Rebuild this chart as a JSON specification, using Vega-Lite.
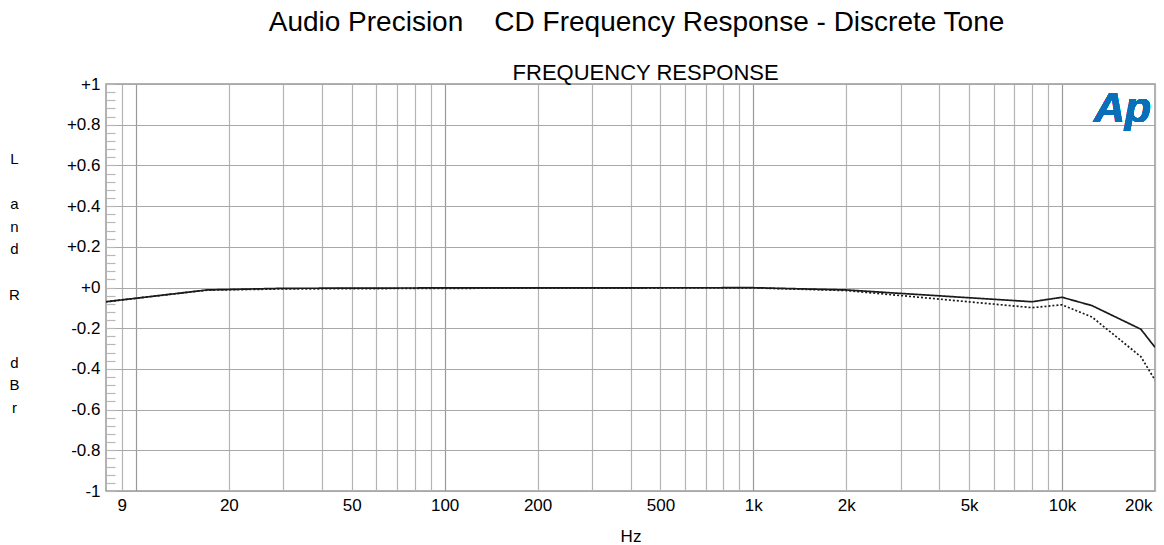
{
  "$schema": "https://vega.github.io/schema/vega-lite/v6.json",
  "autosize": "none",
  "padding": {"left": 106, "top": 84, "right": 9, "bottom": 54},
  "width": 1049,
  "height": 407,
  "background": "white",
  "title": {
    "text": "Audio Precision\u00a0\u00a0\u00a0\u00a0CD Frequency Response - Discrete Tone",
    "subtitle": "\u200b\u00a0\u00a0\u00a0FREQUENCY RESPONSE",
    "anchor": "middle",
    "dx": 6,
    "offset": -9,
    "fontSize": 28,
    "fontWeight": "normal",
    "font": "Liberation Sans",
    "color": "#000000",
    "subtitleFont": "Liberation Sans",
    "subtitleFontSize": 22,
    "subtitleColor": "#000000",
    "subtitlePadding": 26
  },
  "config": {
    "view": {"stroke": "#999999", "strokeWidth": 1.5},
    "axis": {"labelFont": "Liberation Sans", "titleFont": "Liberation Sans", "labelColor": "#000000", "titleColor": "#000000", "titleFontWeight": "normal"}
  },
  "data": {
    "values": [
      {"freq": 8, "level": -0.070, "channel": "Left"},
      {"freq": 17, "level": -0.012, "channel": "Left"},
      {"freq": 30, "level": -0.004, "channel": "Left"},
      {"freq": 100, "level": -0.002, "channel": "Left"},
      {"freq": 1000, "level": -0.001, "channel": "Left"},
      {"freq": 2000, "level": -0.012, "channel": "Left"},
      {"freq": 8000, "level": -0.070, "channel": "Left"},
      {"freq": 10000, "level": -0.048, "channel": "Left"},
      {"freq": 12500, "level": -0.089, "channel": "Left"},
      {"freq": 18000, "level": -0.205, "channel": "Left"},
      {"freq": 20000, "level": -0.294, "channel": "Left"},
      {"freq": 8, "level": -0.070, "channel": "Right"},
      {"freq": 17, "level": -0.013, "channel": "Right"},
      {"freq": 30, "level": -0.007, "channel": "Right"},
      {"freq": 100, "level": -0.004, "channel": "Right"},
      {"freq": 1000, "level": -0.002, "channel": "Right"},
      {"freq": 2000, "level": -0.015, "channel": "Right"},
      {"freq": 8000, "level": -0.099, "channel": "Right"},
      {"freq": 10000, "level": -0.085, "channel": "Right"},
      {"freq": 12500, "level": -0.145, "channel": "Right"},
      {"freq": 18000, "level": -0.340, "channel": "Right"},
      {"freq": 20000, "level": -0.455, "channel": "Right"}
    ]
  },
  "layer": [
    {
      "mark": {"type": "line", "color": "#1a1a1a", "strokeWidth": 1.7, "clip": true},
      "encoding": {
        "x": {
          "field": "freq", "type": "quantitative",
          "scale": {"type": "log", "domain": [8, 20000], "nice": false},
          "axis": {
            "title": "Hz",
            "titleFontSize": 17,
            "titlePadding": 15,
            "tickCount": 200,
            "values": [9, 10, 20, 30, 40, 50, 60, 70, 80, 90, 100, 200, 300, 400, 500, 600, 700, 800, 900, 1000, 2000, 3000, 4000, 5000, 6000, 7000, 8000, 9000, 10000, 20000],
            "labelExpr": "indexof([9, 20, 50, 100, 200, 500, 1000, 2000, 5000, 10000, 20000], datum.value) < 0 ? '' : (datum.value >= 1000 ? (datum.value / 1000) + 'k' : '' + datum.value)",
            "labelFontSize": 17,
            "labelPadding": 6,
            "labelOverlap": false,
            "labelFlush": true,
            "labelFlushOffset": -3,
            "ticks": false,
            "domain": false,
            "grid": true,
            "gridColor": {"condition": {"test": "indexof([10, 100, 1000, 10000], datum.value) >= 0", "value": "#999999"}, "value": "#b4b4b4"},
            "gridWidth": 1.2
          }
        },
        "y": {
          "field": "level", "type": "quantitative",
          "scale": {"domain": [-1, 1], "nice": false, "zero": false},
          "axis": {
            "title": ["L", "\u200b", "a", "n", "d", "\u200b", "R", "\u200b", "\u200b", "d", "B", "r"],
            "titleAngle": 0,
            "titleFontSize": 15,
            "titleLineHeight": 22.7,
            "titleAlign": "center",
            "titleBaseline": "middle",
            "titleX": -92,
            "titleY": 74,
            "tickCount": 200,
            "values": [-1, -0.96, -0.92, -0.88, -0.84, -0.8, -0.76, -0.72, -0.68, -0.64, -0.6, -0.56, -0.52, -0.48, -0.44, -0.4, -0.36, -0.32, -0.28, -0.24, -0.2, -0.16, -0.12, -0.08, -0.04, 0, 0.04, 0.08, 0.12, 0.16, 0.2, 0.24, 0.28, 0.32, 0.36, 0.4, 0.44, 0.48, 0.52, 0.56, 0.6, 0.64, 0.68, 0.72, 0.76, 0.8, 0.84, 0.88, 0.92, 0.96, 1],
            "labelExpr": "abs(datum.value * 5 - round(datum.value * 5)) > 0.01 ? '' : (datum.value > 0.001 ? '+' + datum.value : (datum.value < -0.001 ? '' + datum.value : '+0'))",
            "labelFontSize": 17,
            "labelPadding": 15,
            "labelOverlap": false,
            "labelFlush": false,
            "ticks": true,
            "tickSize": -9,
            "tickColor": "#b8b8b8",
            "tickWidth": 1.2,
            "domain": false,
            "grid": true,
            "gridColor": "#a8a8a8",
            "gridWidth": 1.2,
            "gridOpacity": {"condition": {"test": "abs(datum.value * 5 - round(datum.value * 5)) > 0.01", "value": 0}, "value": 1}
          }
        },
        "strokeDash": {
          "field": "channel", "type": "nominal",
          "scale": {"domain": ["Left", "Right"], "range": [[1, 0], [2, 2]]},
          "legend": null
        }
      }
    },
    {
      "mark": {"type": "text", "text": "Ap", "font": "Liberation Sans", "fontSize": 43, "fontStyle": "italic", "fontWeight": "bold", "color": "#0a6fb8", "align": "right", "baseline": "alphabetic", "dx": -4},
      "encoding": {
        "x": {"datum": 20000},
        "y": {"datum": 0.813}
      }
    }
  ]
}
